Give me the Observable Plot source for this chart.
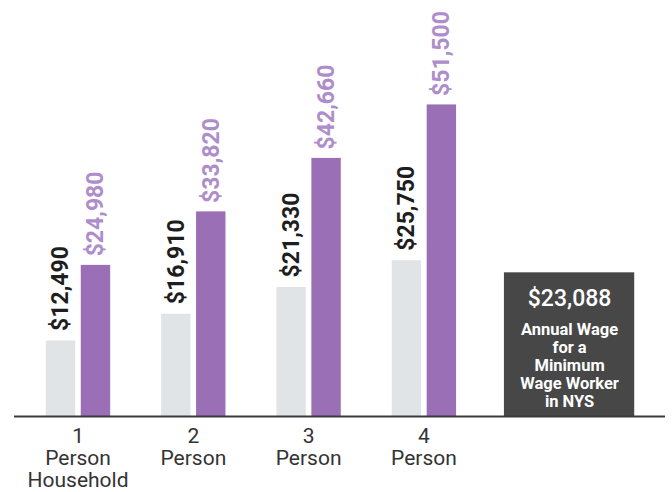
<!DOCTYPE html>
<html>
<head>
<meta charset="utf-8">
<script src="https://cdn.jsdelivr.net/npm/d3@7"></script>
<script src="https://cdn.jsdelivr.net/npm/@observablehq/plot@0.6"></script>
<style>
  html, body { margin: 0; padding: 0; background: #fff; }
  #chart svg { display: block; }
</style>
</head>
<body>
<div id="chart"></div>
<script>
// Data
const householdSize = [1, 2, 3, 4];
const householdLabels = ["1\nPerson\nHousehold", "2\nPerson", "3\nPerson", "4\nPerson"];
const minimumNeed = [12490, 16910, 21330, 25750];   // gray bars
const livingNeed = [24980, 33820, 42660, 51500];    // purple bars
const minWageAnnual = 23088;
const minWageTitle = "$23,088";
const minWageText = "Annual Wage\nfor a\nMinimum\nWage Worker\nin NYS";

const fmt = d => "$" + d3.format(",")(d);

const gray = householdSize.map((h, i) => ({h, v: minimumNeed[i], x1: h - 0.275, x2: h - 0.02}));
const purple = householdSize.map((h, i) => ({h, v: livingNeed[i], x1: h + 0.028, x2: h + 0.283}));
const boxPos = 5.263;
const box = [{x1: boxPos - 0.565, x2: boxPos + 0.565, v: minWageAnnual}];
const groups = householdSize.map((h, i) => ({h, label: householdLabels[i]}));

const chart = Plot.plot({
  width: 672,
  height: 492,
  marginLeft: 14,
  marginRight: 7,
  marginTop: 53,
  marginBottom: 76,
  x: {type: "linear", domain: [0.449, 6.095], axis: null},
  y: {domain: [0, 60000], axis: null},
  style: {fontFamily: "Roboto, sans-serif", background: "#fff"},
  marks: [
    Plot.rectY(gray, {x1: "x1", x2: "x2", y: "v", fill: "#e1e4e6"}),
    Plot.rectY(purple, {x1: "x1", x2: "x2", y: "v", fill: "#9a6fb5"}),
    Plot.rectY(box, {x1: "x1", x2: "x2", y: "v", fill: "#474747", insetTop: -4}),
    Plot.ruleY([0], {stroke: "#3a3a3a", strokeWidth: 2}),
    Plot.text(gray, {
      x: d => (d.x1 + d.x2) / 2, y: "v", text: d => fmt(d.v),
      rotate: -90, textAnchor: "start", dy: -10,
      fontSize: 23, fontWeight: "bold", fill: "#1e1e1e"
    }),
    Plot.text(purple, {
      x: d => (d.x1 + d.x2) / 2, y: "v", text: d => fmt(d.v),
      rotate: -90, textAnchor: "start", dy: -9,
      fontSize: 23, fontWeight: "bold", fill: "#ad8dcb"
    }),
    Plot.text(groups, {
      x: "h", y: 0, text: "label", lineAnchor: "top", dy: 11,
      fontSize: 21, lineHeight: 1.05, fill: "#333"
    }),
    Plot.text([minWageTitle], {
      x: boxPos, y: minWageAnnual, text: d => d, lineAnchor: "middle", dy: 22,
      fontSize: 23, fontWeight: 500, fill: "#fff"
    }),
    Plot.text([minWageText], {
      x: boxPos, y: minWageAnnual, text: d => d, lineAnchor: "top", dy: 46,
      fontSize: 16.5, lineHeight: 1.08, fontWeight: "bold", fill: "#fff"
    })
  ]
});
document.getElementById("chart").appendChild(chart);
</script>
</body>
</html>
